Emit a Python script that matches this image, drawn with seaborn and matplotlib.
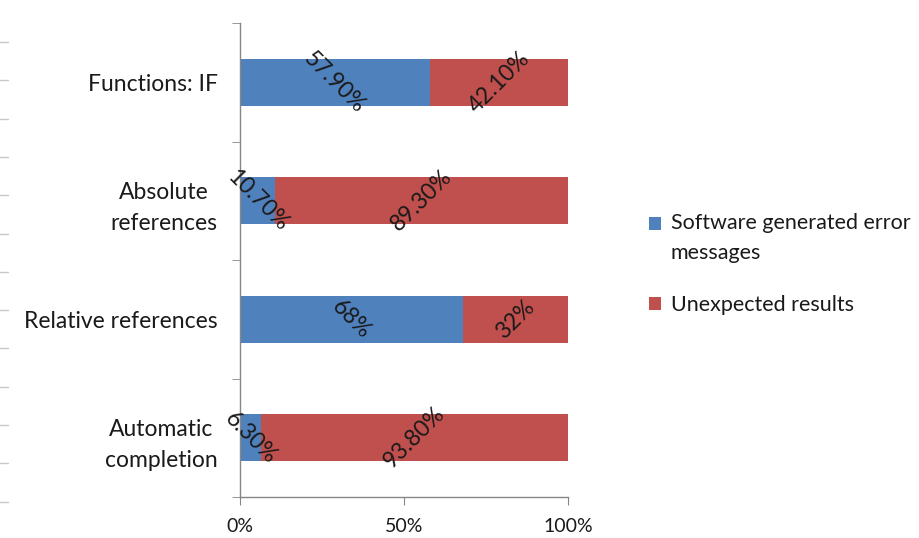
import matplotlib
matplotlib.use("Agg")
import matplotlib.pyplot as plt
import seaborn as sns
import numpy as np
import pandas as pd
from matplotlib.patches import Patch, Rectangle
from matplotlib.lines import Line2D
from matplotlib.legend_handler import HandlerPatch

categories = ["Functions: IF", "Absolute\nreferences", "Relative references", "Automatic\ncompletion"]
software_errors = [57.9, 10.7, 68.0, 6.3]
unexpected = [42.1, 89.3, 32.0, 93.8]
software_labels = ["57.90%", "10.70%", "68%", "6.30%"]
unexpected_labels = ["42.10%", "89.30%", "32%", "93.80%"]
series_names = ["Software generated error\nmessages", "Unexpected results"]
x_ticks = [0, 50, 100]
x_ticklabels = ["0%", "50%", "100%"]

BLUE = "#4F81BD"
RED = "#C0504D"
TXT = "#1a1a1a"
GRID = "#868686"

sns.set_style("white")
plt.rcParams["font.family"] = ["Lato", "DejaVu Sans"]

fig = plt.figure(figsize=(9.19, 5.38), dpi=100)
ax = fig.add_axes([240 / 919, 1 - 497 / 538, 328 / 919, 474 / 538])

df = pd.DataFrame({
    "cat": categories,
    "soft": software_errors,
    "total": np.array(software_errors) + np.array(unexpected),
})

sns.barplot(data=df, x="total", y="cat", color=RED, saturation=1, width=0.4, ax=ax,
            orient="h", linewidth=0)
sns.barplot(data=df, x="soft", y="cat", color=BLUE, saturation=1, width=0.4, ax=ax,
            orient="h", linewidth=0)

for i, (s, u) in enumerate(zip(software_errors, unexpected)):
    ax.text(s / 2, i, software_labels[i], rotation=-45, ha="center", va="center",
            rotation_mode="anchor", fontsize=16.5, color=TXT)
    ax.text(s + u / 2, i, unexpected_labels[i], rotation=45, ha="center", va="center",
            rotation_mode="anchor", fontsize=16.5, color=TXT)

ax.set_xlim(0, 100)
ax.set_ylim(3.5, -0.5)
ax.set_xlabel("")
ax.set_ylabel("")

ax.set_xticks(x_ticks)
ax.set_xticklabels(x_ticklabels, fontsize=14, color=TXT)
ax.set_yticks(range(len(categories)))
ax.set_yticklabels(categories, fontsize=16.5, color=TXT, multialignment="center", linespacing=1.6)
ax.tick_params(axis="y", which="major", length=0, pad=16)
ax.set_yticks(np.arange(-0.5, len(categories), 1.0), minor=True)
ax.tick_params(axis="y", which="minor", length=6, color=GRID, direction="out", left=True)
ax.tick_params(axis="x", which="major", length=6, color=GRID, direction="out", bottom=True, pad=9)

for side in ["top", "right"]:
    ax.spines[side].set_visible(False)
for side in ["left", "bottom"]:
    ax.spines[side].set_color(GRID)
    ax.spines[side].set_linewidth(1.0)


def top_aligned(legend, orig_handle, xdescent, ydescent, width, height, fontsize):
    # align the square with the first line of a two-line label
    return Rectangle((-xdescent, -ydescent + 10.5), width, height)


handles = [Patch(facecolor=BLUE, edgecolor="none"), Patch(facecolor=RED, edgecolor="none")]
leg = fig.legend(handles, series_names, loc="upper left", bbox_to_anchor=(649 / 919, 1 - 213 / 538),
                 frameon=False, fontsize=15.5, handlelength=0.55, handleheight=0.55,
                 handletextpad=0.45, labelspacing=1.5, labelcolor=TXT, borderaxespad=0,
                 borderpad=0, handler_map={handles[0]: HandlerPatch(patch_func=top_aligned)})
for t in leg.get_texts():
    t.set_linespacing(1.6)

# faint tick marks at the left edge of the picture
for yy in np.arange(42, 510, 38.3):
    fig.add_artist(Line2D([0, 8 / 919], [1 - yy / 538, 1 - yy / 538], color="#c8c8c8", lw=1))

fig.savefig("out.png", dpi=100)
